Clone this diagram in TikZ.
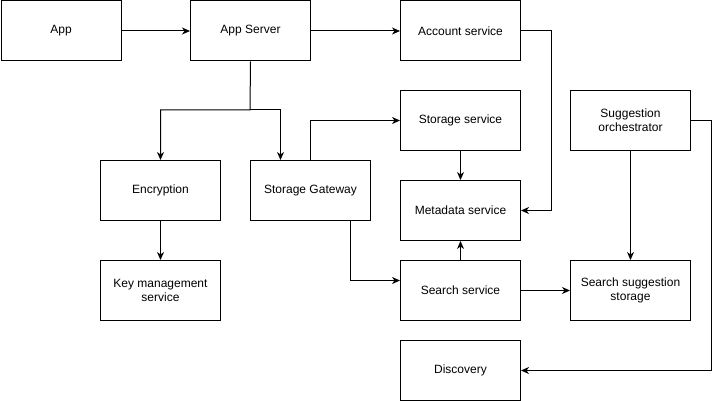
\documentclass[tikz,border=0pt]{standalone}
\usepackage{fontspec}
\setmainfont{Liberation Sans}
\usetikzlibrary{arrows.meta}
\begin{document}
\begin{tikzpicture}[x=1pt,y=-1pt,
  box/.style={draw,line width=1pt,minimum width=120pt,minimum height=60pt,inner sep=0pt,align=center,font=\fontsize{12}{14}\selectfont,anchor=north west},
  conn/.style={line width=1pt,-{Stealth[length=8pt,width=7pt,inset=2.5pt]}}]
\useasboundingbox (0,0) rectangle (720,401);
\node[box] (app) at (0.5,0.5) {App};
\node[box] (srv) at (190,0.5) {App Server};
\node[box] (acc) at (400,0.5) {Account service};
\node[box] (enc) at (100,160) {Encryption};
\node[box] (gw) at (250,160) {Storage Gateway};
\node[box] (sto) at (400,90) {Storage service};
\node[box] (meta) at (400,180) {Metadata service};
\node[box] (srch) at (400,260) {Search service};
\node[box] (key) at (100,260) {Key management\\service};
\node[box] (orc) at (570,90) {Suggestion\\orchestrator};
\node[box] (sss) at (570,260) {Search suggestion\\storage};
\node[box] (disc) at (400,340) {Discovery};
\coordinate (b1) at (250,110);
\draw[conn] (app) -- (srv);
\draw[conn] (srv) -- (acc);
\draw[conn] (srv.south) -- (b1) -| (enc.north);
\draw[conn] (b1) -| ([xshift=-30pt]gw.north);
\draw[conn] (gw.north) |- (sto.west);
\draw[conn] (sto) -- (meta);
\draw[conn] (acc.east) -- ++(30,0) |- (meta.east);
\draw[conn] (enc) -- (key);
\draw[conn] ([xshift=40pt]gw.south) |- ([yshift=10pt]srch.west);
\draw[conn] (srch) -- (meta);
\draw[conn] (srch) -- (sss);
\draw[conn] (orc) -- (sss);
\draw[conn] (orc.east) -- ++(20,0) |- (disc.east);
\end{tikzpicture}
\end{document}
